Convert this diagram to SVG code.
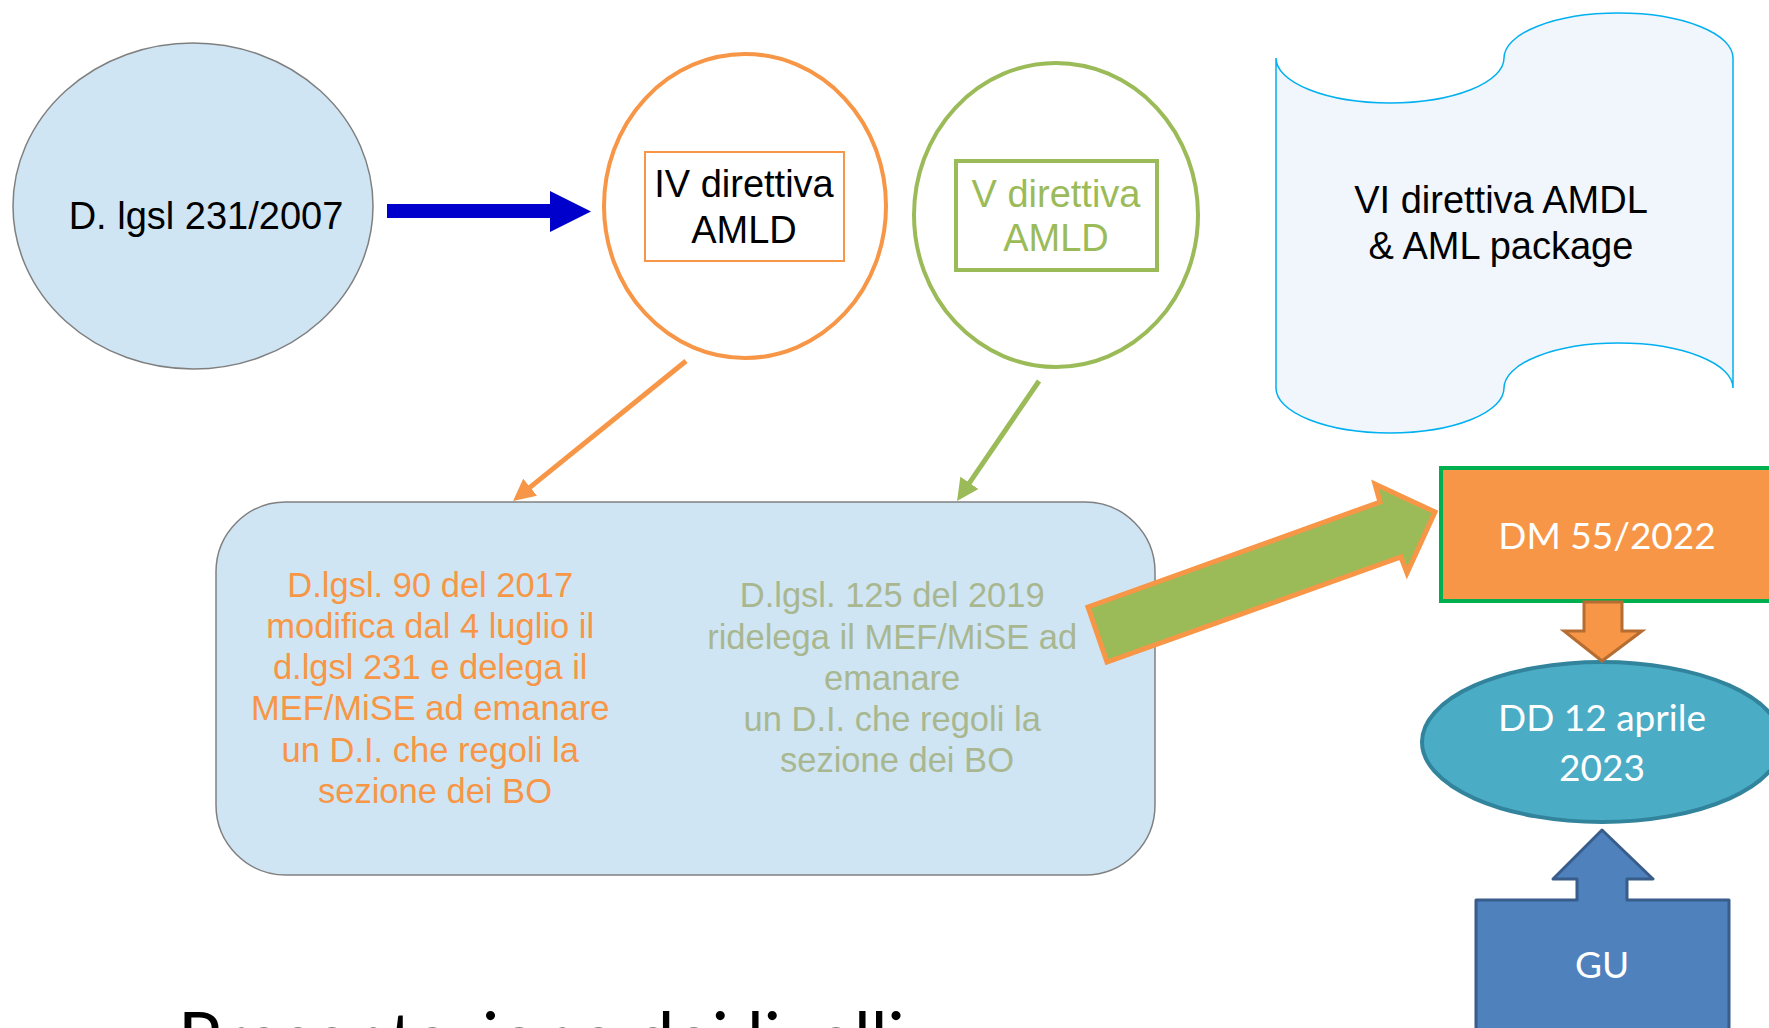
<svg xmlns="http://www.w3.org/2000/svg" width="1769" height="1028" viewBox="0 0 1769 1028">
<style>
.a{font-family:"Liberation Sans",Arial,sans-serif;text-anchor:middle}
.c{font-family:Lato,"Open Sans",sans-serif;text-anchor:middle;fill:#fff}
</style>
<defs>
<marker id="hO" markerUnits="userSpaceOnUse" viewBox="0 0 22 22" refX="7" refY="11" markerWidth="22" markerHeight="22" orient="auto"><path d="M0,0 L22,11 L0,22 z" fill="#f79646"/></marker>
<marker id="hG" markerUnits="userSpaceOnUse" viewBox="0 0 22 22" refX="7" refY="11" markerWidth="22" markerHeight="22" orient="auto"><path d="M0,0 L22,11 L0,22 z" fill="#9bbb59"/></marker>
</defs>
<rect width="1769" height="1028" fill="#fff"/>

<g id="dlgs231">
<ellipse cx="193" cy="206" rx="180" ry="163" fill="#cfe5f3" stroke="#7f7f7f" stroke-width="1.5"/>
<text class="a" x="206" y="229" font-size="38" fill="#000">D. lgsl 231/2007</text>
</g>

<g id="iv">
<ellipse cx="745" cy="206" rx="141" ry="152" fill="#fff" stroke="#f79646" stroke-width="4"/>
<rect x="645" y="152" width="199" height="109" fill="#fff" stroke="#f79646" stroke-width="2"/>
<text class="a" font-size="38" fill="#000"><tspan x="744" y="197">IV direttiva</tspan><tspan x="744" y="243">AMLD</tspan></text>
</g>

<g id="v">
<ellipse cx="1056" cy="215" rx="142" ry="152" fill="#fff" stroke="#9bbb59" stroke-width="4"/>
<rect x="956" y="161" width="201" height="109" fill="#fff" stroke="#9bbb59" stroke-width="4"/>
<text class="a" font-size="38" fill="#9bbb59"><tspan x="1056" y="207">V direttiva</tspan><tspan x="1056" y="251">AMLD</tspan></text>
</g>

<g id="vi">
<path d="M1276,58 A114,45 0 0 0 1504,58 A114.5,45 0 0 1 1733,58 L1733,388 A114.5,45 0 0 0 1504,388 A114,45 0 0 1 1276,388 Z" fill="#f0f6fb" stroke="#00b0f0" stroke-width="1.5"/>
<text class="a" font-size="38" fill="#000"><tspan x="1501" y="213">VI direttiva AMDL</tspan><tspan x="1501" y="259">&amp; AML package</tspan></text>
</g>

<g id="box">
<rect x="216" y="502" width="939" height="373" rx="70" ry="70" fill="#cfe5f3" stroke="#808080" stroke-width="1.5"/>
<text class="a" font-size="34.5" fill="#f79646">
<tspan x="435" y="597">D.lgsl. 90 del 2017</tspan>
<tspan x="435" y="638">modifica dal 4 luglio il</tspan>
<tspan x="435" y="679">d.lgsl 231 e delega il</tspan>
<tspan x="435" y="720">MEF/MiSE ad emanare</tspan>
<tspan x="435" y="762">un D.I. che regoli la</tspan>
<tspan x="435" y="803">sezione dei BO</tspan>
</text>
<text class="a" font-size="34.5" fill="#a9b790">
<tspan x="897" y="607">D.lgsl. 125 del 2019</tspan>
<tspan x="897" y="649">ridelega il MEF/MiSE ad</tspan>
<tspan x="897" y="690">emanare</tspan>
<tspan x="897" y="731">un D.I. che regoli la</tspan>
<tspan x="897" y="772">sezione dei BO</tspan>
</text>
</g>

<g id="dm">
<rect x="1441" y="468" width="340" height="133" fill="#f79646" stroke="#00b050" stroke-width="4"/>
<text class="c" x="1607" y="549" font-size="37">DM 55/2022</text>
</g>

<g id="dd">
<ellipse cx="1602" cy="742" rx="180" ry="80" fill="#4bacc6" stroke="#31849b" stroke-width="4"/>
<text class="c" font-size="37"><tspan x="1602" y="731">DD 12 aprile</tspan><tspan x="1602" y="781">2023</tspan></text>
</g>

<g id="gu">
<polygon points="1476,1035 1476,900 1577,900 1577,879 1553,879 1602,830 1653,879 1627,879 1627,900 1729,900 1729,1035" fill="#4f81bd" stroke="#385d8a" stroke-width="3" stroke-linejoin="round"/>
<text class="c" x="1602" y="978" font-size="37">GU</text>
</g>

<g id="connectors">
<polygon points="387,204 550,204 550,191 591,211.5 550,232 550,218 387,218" fill="#0000cc"/>
<line x1="686" y1="361" x2="524.7" y2="491.6" stroke="#f79646" stroke-width="5" marker-end="url(#hO)"/>
<line x1="1039" y1="381" x2="965.5" y2="488.6" stroke="#9bbb59" stroke-width="5" marker-end="url(#hG)"/>
<polygon points="1088,607 1380,502 1375,484 1435,512 1407,573 1401,557 1107,662" fill="#9bbb59" stroke="#f79646" stroke-width="5"/>
<polygon points="1584,602 1622,602 1622,631 1642,631 1602,661 1564,631 1584,631" fill="#f79646" stroke="#b66d31" stroke-width="3"/>
</g>

<text x="178" y="1064" font-family="Lato,'Open Sans',sans-serif" font-size="71" fill="#000">Presentazione dei livelli</text>
</svg>
